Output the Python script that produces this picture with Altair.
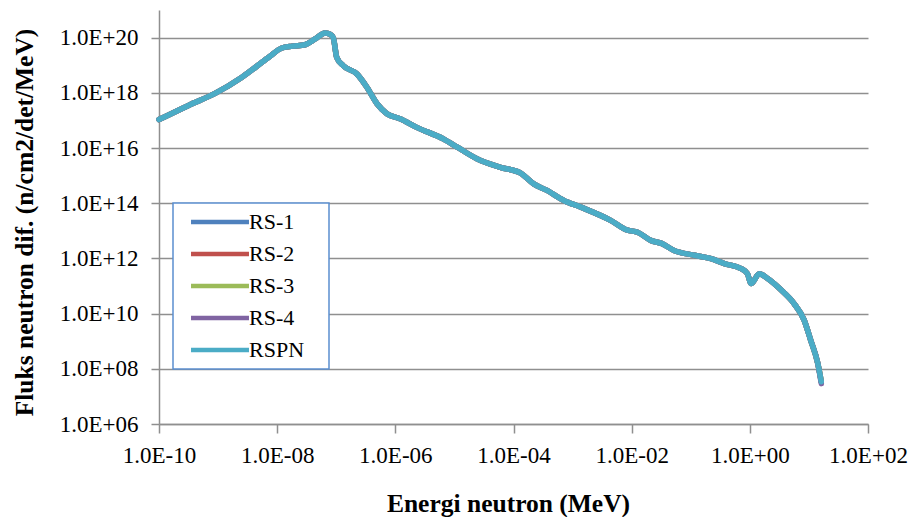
import altair as alt
import pandas as pd

# Energy grid (MeV)
energy = [1.0e-10, 3.16e-10, 8.9e-10, 2.5e-9, 7.1e-9, 1.2e-8, 1.8e-8, 2.95e-8, 4.4e-8,
          6.5e-8, 7.9e-8, 8.9e-8, 1.02e-7, 1.32e-7, 2.24e-7, 3.3e-7, 4.9e-7, 7.2e-7,
          1.2e-6, 2.3e-6, 6.6e-6, 1.12e-5, 2.4e-5, 6.0e-5, 1.32e-4, 2.2e-4, 3.7e-4,
          7.1e-4, 1.38e-3, 4.4e-3, 8.5e-3, 1.26e-2, 2.1e-2, 3.2e-2, 5.2e-2, 1.15e-1,
          2.2e-1, 3.7e-1, 7.1e-1, 9.1e-1, 1.05, 1.45, 2.0, 3.4, 5.6, 8.3, 10.7, 14.1, 16.2]

flux_rs1 = [1.07e17, 3.5e17, 9.5e17, 3.6e18, 1.9e19, 4.2e19, 4.9e19, 5.5e19, 8.9e19,
            1.48e20, 1.3e20, 1.0e20, 1.9e19, 9.5e18, 4.8e18, 1.6e18, 4.0e17, 1.74e17,
            1.15e17, 5.6e16, 2.1e16, 1.07e16, 4.1e15, 2.0e15, 1.23e15, 5.0e14, 2.9e14,
            1.26e14, 7.2e13, 2.4e13, 1.05e13, 8.9e12, 4.5e12, 3.5e12, 1.95e12, 1.3e12,
            9.8e11, 6.5e11, 4.3e11, 2.8e11, 1.23e11, 2.8e11, 1.86e11, 7.1e10, 2.3e10,
            5.8e9, 1.1e9, 1.6e8, 3.4e7]
flux_rs2 = list(flux_rs1)
flux_rs3 = list(flux_rs1)
flux_rs4 = flux_rs1[:-1] + [2.9e7]
flux_rspn = list(flux_rs1)

series = ["RS-1", "RS-2", "RS-3", "RS-4", "RSPN"]
colors = ["#4f81bd", "#c0504d", "#9bbb59", "#8064a2", "#4bacc6"]
all_flux = [flux_rs1, flux_rs2, flux_rs3, flux_rs4, flux_rspn]

x_ticks = [1e-10, 1e-8, 1e-6, 1e-4, 1e-2, 1e0, 1e2]
y_ticks = [1e6, 1e8, 1e10, 1e12, 1e14, 1e16, 1e18, 1e20]

rows = []
for name, vals in zip(series, all_flux):
    for i, (e, f) in enumerate(zip(energy, vals)):
        rows.append({"series": name, "energy": e, "flux": f, "idx": i})
df = pd.DataFrame(rows)

exp = "round(log(datum.value)/LN10)"
label_expr = ("'1.0E' + (" + exp + " < 0 ? '-' : '+') + (abs(" + exp + ") < 10 ? '0' : '') + abs(" + exp + ")")

font = "'Times New Roman', 'Liberation Serif', serif"
gray = "#8f8f8f"

chart = alt.Chart(df).mark_line(
    strokeWidth=5.5, interpolate="monotone", strokeCap="round", strokeJoin="round"
).encode(
    x=alt.X("energy:Q",
            scale=alt.Scale(type="log", domain=[1e-10, 1e2], nice=False),
            axis=alt.Axis(values=x_ticks, labelExpr=label_expr, grid=False,
                          title="Energi neutron (MeV)", titleX=349, titleY=87,
                          titleBaseline="alphabetic", titleAlign="center",
                          titleFontSize=25.5,
                          tickSize=9, labelPadding=11, labelFlush=False)),
    y=alt.Y("flux:Q",
            scale=alt.Scale(type="log", domain=[1e6, 1e21], nice=False),
            axis=alt.Axis(values=y_ticks, labelExpr=label_expr, grid=True,
                          title="Fluks neutron dif. (n/cm2/det/MeV)",
                          titleX=-135, titleY=212, titleAngle=270,
                          titleAlign="center", titleBaseline="middle",
                          titleFontSize=25.5,
                          tickSize=8, labelPadding=13, labelFlush=False)),
    color=alt.Color("series:N",
                    scale=alt.Scale(domain=series, range=colors),
                    legend=alt.Legend(orient="none", legendX=14, legendY=193, title=None,
                                      symbolType="M-4,0H4", symbolSize=210,
                                      symbolStrokeWidth=4.5, labelFont=font,
                                      labelFontSize=22, labelColor="black",
                                      labelExpr="datum.label + '\u2800'",
                                      strokeColor="#5b8fd0", fillColor="white",
                                      padding=8, rowPadding=10, labelOffset=18,
                                      symbolOffset=28)),
    order="idx:Q",
).properties(
    width=709, height=414,
    padding={"left": 151, "top": 2, "right": 40, "bottom": 93},
    autosize=alt.AutoSizeParams(type="none"),
).configure_view(stroke=None).configure_axis(
    labelFont=font, labelFontSize=23, labelColor="black",
    titleFont=font, titleFontSize=24, titleFontWeight="bold", titleColor="black",
    domainColor=gray, domainWidth=1.5, tickColor=gray, tickWidth=1.5,
    gridColor=gray, gridWidth=1.5,
).configure_legend(strokeWidth=1.5)

chart.save("out.html", embed_options={"renderer": "svg", "actions": False})
